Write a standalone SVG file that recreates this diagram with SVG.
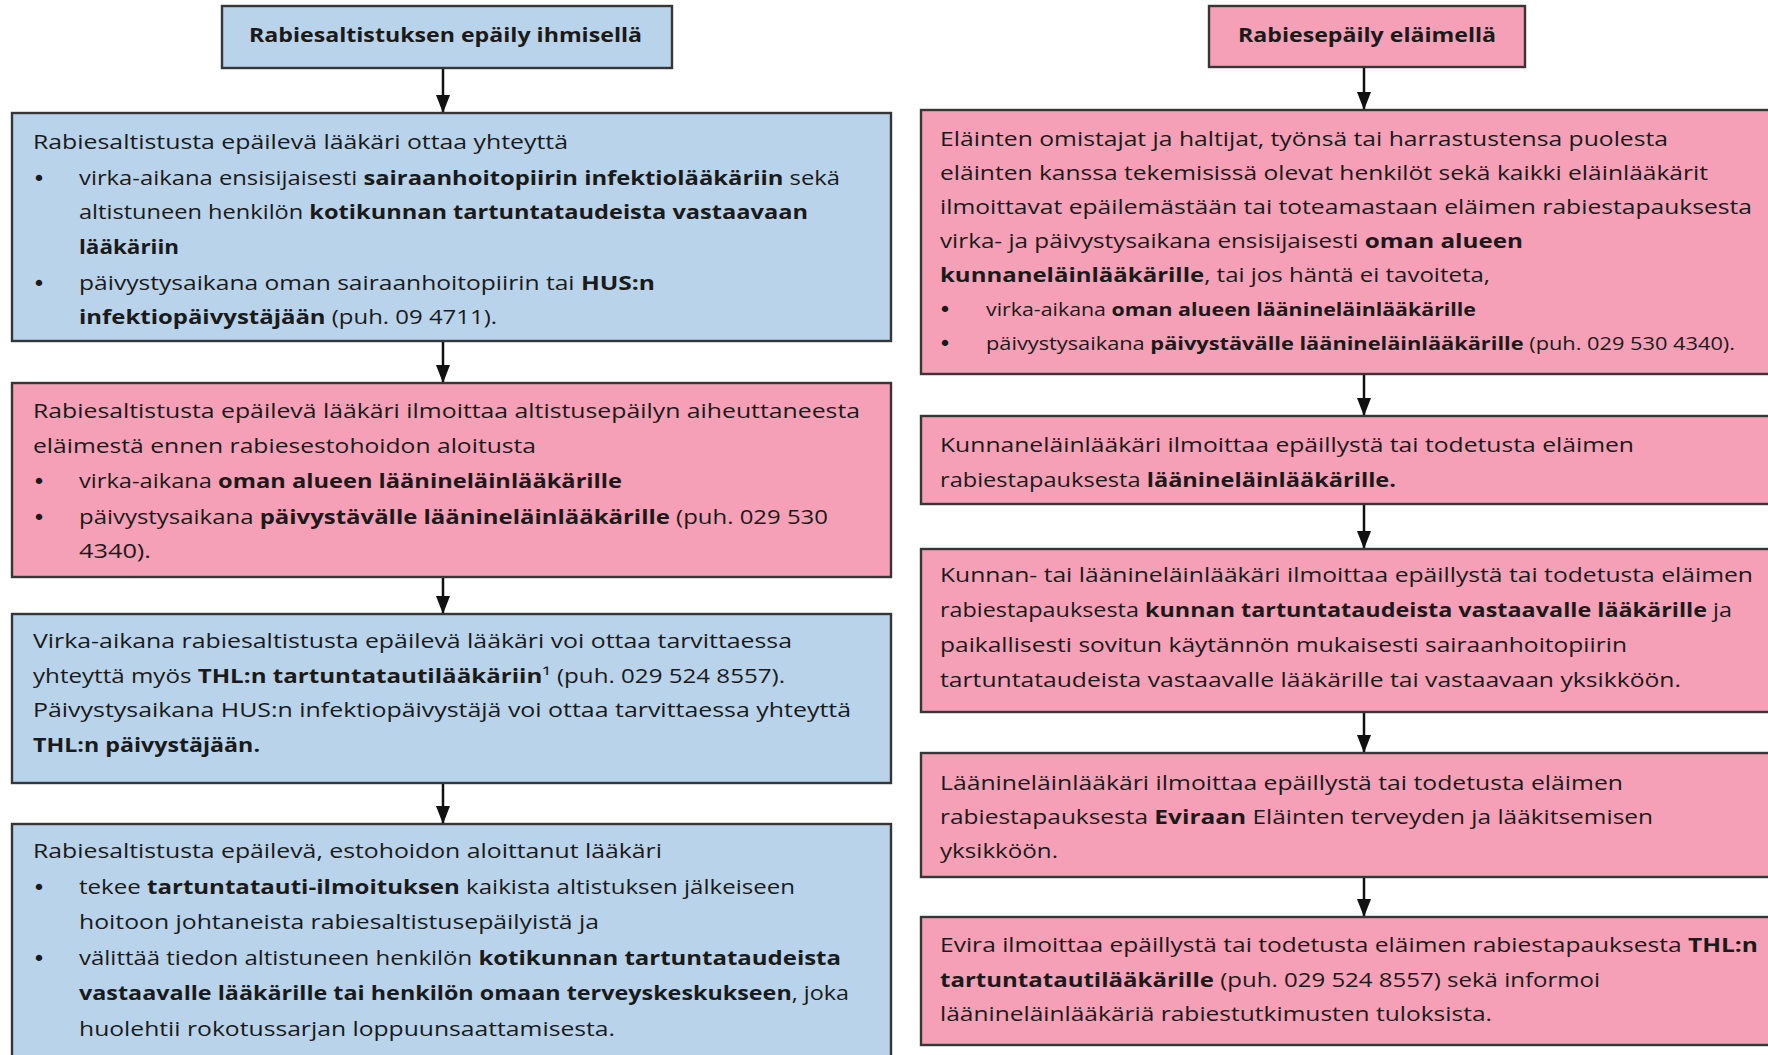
<svg xmlns="http://www.w3.org/2000/svg" width="1768" height="1055" viewBox="0 0 1768 1055">
<style>
.bg{fill:#ffffff}
.blue{fill:#B9D3EB;stroke:#363636;stroke-width:2.4}
.pink{fill:#F5A0B6;stroke:#363636;stroke-width:2.4}
.t{font-family:"Open Sans","Noto Sans","Liberation Sans",sans-serif;font-size:20px;fill:#1a1a1a}
.s{font-size:18px}
.b{font-weight:bold}
.bul{font-family:"DejaVu Sans","Liberation Sans",sans-serif;font-size:22px;fill:#1a1a1a;text-anchor:middle}
.arr{stroke:#111;stroke-width:2.5;fill:none}
</style>
<defs>
<marker id="ah" markerUnits="userSpaceOnUse" markerWidth="18" markerHeight="14" refX="18" refY="7" orient="auto">
<path d="M0,0 L18,7 L0,14 z" fill="#111"/>
</marker>
</defs>
<rect class="bg" x="0" y="0" width="1768" height="1055"/>

<g id="connectors">
<line class="arr" x1="443" y1="68" x2="443" y2="113" marker-end="url(#ah)"/>
<line class="arr" x1="443" y1="341" x2="443" y2="383" marker-end="url(#ah)"/>
<line class="arr" x1="443" y1="577" x2="443" y2="614" marker-end="url(#ah)"/>
<line class="arr" x1="443" y1="783" x2="443" y2="824" marker-end="url(#ah)"/>
<line class="arr" x1="1364" y1="67" x2="1364" y2="110" marker-end="url(#ah)"/>
<line class="arr" x1="1364" y1="374" x2="1364" y2="416" marker-end="url(#ah)"/>
<line class="arr" x1="1364" y1="504" x2="1364" y2="549" marker-end="url(#ah)"/>
<line class="arr" x1="1364" y1="712" x2="1364" y2="753" marker-end="url(#ah)"/>
<line class="arr" x1="1364" y1="877" x2="1364" y2="917" marker-end="url(#ah)"/>
</g>

<g id="title-human">
<rect class="blue" x="222" y="6" width="450" height="62"/>
<text class="t b" x="249" y="42" textLength="393" lengthAdjust="spacingAndGlyphs">Rabiesaltistuksen epäily ihmisellä</text>
</g>

<g id="title-animal">
<rect class="pink" x="1209" y="6" width="316" height="61"/>
<text class="t b" x="1238" y="42" textLength="258" lengthAdjust="spacingAndGlyphs">Rabiesepäily eläimellä</text>
</g>

<g id="human-1">
<rect class="blue" x="12" y="113" width="879" height="228"/>
<text class="t" x="33" y="149" textLength="535" lengthAdjust="spacingAndGlyphs">Rabiesaltistusta epäilevä lääkäri ottaa yhteyttä</text>
<text class="bul" x="39" y="186">•</text>
<text class="t" x="79" y="185" textLength="761" lengthAdjust="spacingAndGlyphs">virka-aikana ensisijaisesti <tspan class="b">sairaanhoitopiirin infektiolääkäriin</tspan> sekä</text>
<text class="t" x="79" y="219" textLength="729" lengthAdjust="spacingAndGlyphs">altistuneen henkilön <tspan class="b">kotikunnan tartuntataudeista vastaavaan</tspan></text>
<text class="t b" x="79" y="254" textLength="100" lengthAdjust="spacingAndGlyphs">lääkäriin</text>
<text class="bul" x="39" y="291">•</text>
<text class="t" x="79" y="290" textLength="576" lengthAdjust="spacingAndGlyphs">päivystysaikana oman sairaanhoitopiirin tai <tspan class="b">HUS:n</tspan></text>
<text class="t" x="79" y="324" textLength="418" lengthAdjust="spacingAndGlyphs"><tspan class="b">infektiopäivystäjään</tspan> (puh. 09 4711).</text>
</g>

<g id="human-2">
<rect class="pink" x="12" y="383" width="879" height="194"/>
<text class="t" x="33" y="418" textLength="827" lengthAdjust="spacingAndGlyphs">Rabiesaltistusta epäilevä lääkäri ilmoittaa altistusepäilyn aiheuttaneesta</text>
<text class="t" x="33" y="453" textLength="503" lengthAdjust="spacingAndGlyphs">eläimestä ennen rabiesestohoidon aloitusta</text>
<text class="bul" x="39" y="489">•</text>
<text class="t" x="79" y="488" textLength="543" lengthAdjust="spacingAndGlyphs">virka-aikana <tspan class="b">oman alueen läänineläinlääkärille</tspan></text>
<text class="bul" x="39" y="525">•</text>
<text class="t" x="79" y="524" textLength="749" lengthAdjust="spacingAndGlyphs">päivystysaikana <tspan class="b">päivystävälle läänineläinlääkärille</tspan> (puh. 029 530</text>
<text class="t" x="79" y="558" textLength="72" lengthAdjust="spacingAndGlyphs">4340).</text>
</g>

<g id="human-3">
<rect class="blue" x="12" y="614" width="879" height="169"/>
<text class="t" x="33" y="648" textLength="759" lengthAdjust="spacingAndGlyphs">Virka-aikana rabiesaltistusta epäilevä lääkäri voi ottaa tarvittaessa</text>
<text class="t" x="33" y="683" textLength="752" lengthAdjust="spacingAndGlyphs">yhteyttä myös <tspan class="b">THL:n tartuntatautilääkäriin</tspan>¹ (puh. 029 524 8557).</text>
<text class="t" x="33" y="717" textLength="818" lengthAdjust="spacingAndGlyphs">Päivystysaikana HUS:n infektiopäivystäjä voi ottaa tarvittaessa yhteyttä</text>
<text class="t b" x="33" y="752" textLength="227" lengthAdjust="spacingAndGlyphs">THL:n päivystäjään.</text>
</g>

<g id="human-4">
<rect class="blue" x="12" y="824" width="879" height="260"/>
<text class="t" x="33" y="858" textLength="629" lengthAdjust="spacingAndGlyphs">Rabiesaltistusta epäilevä, estohoidon aloittanut lääkäri</text>
<text class="bul" x="39" y="895">•</text>
<text class="t" x="79" y="894" textLength="716" lengthAdjust="spacingAndGlyphs">tekee <tspan class="b">tartuntatauti-ilmoituksen</tspan> kaikista altistuksen jälkeiseen</text>
<text class="t" x="79" y="929" textLength="520" lengthAdjust="spacingAndGlyphs">hoitoon johtaneista rabiesaltistusepäilyistä ja</text>
<text class="bul" x="39" y="966">•</text>
<text class="t" x="79" y="965" textLength="762" lengthAdjust="spacingAndGlyphs">välittää tiedon altistuneen henkilön <tspan class="b">kotikunnan tartuntataudeista</tspan></text>
<text class="t" x="79" y="1000" textLength="770" lengthAdjust="spacingAndGlyphs"><tspan class="b">vastaavalle lääkärille tai henkilön omaan terveyskeskukseen</tspan>, joka</text>
<text class="t" x="79" y="1036" textLength="536" lengthAdjust="spacingAndGlyphs">huolehtii rokotussarjan loppuunsaattamisesta.</text>
</g>

<g id="animal-1">
<rect class="pink" x="921" y="110" width="870" height="264"/>
<text class="t" x="940" y="146" textLength="728" lengthAdjust="spacingAndGlyphs">Eläinten omistajat ja haltijat, työnsä tai harrastustensa puolesta</text>
<text class="t" x="940" y="180" textLength="768" lengthAdjust="spacingAndGlyphs">eläinten kanssa tekemisissä olevat henkilöt sekä kaikki eläinlääkärit</text>
<text class="t" x="940" y="214" textLength="812" lengthAdjust="spacingAndGlyphs">ilmoittavat epäilemästään tai toteamastaan eläimen rabiestapauksesta</text>
<text class="t" x="940" y="248" textLength="583" lengthAdjust="spacingAndGlyphs">virka- ja päivystysaikana ensisijaisesti <tspan class="b">oman alueen</tspan></text>
<text class="t" x="940" y="282" textLength="550" lengthAdjust="spacingAndGlyphs"><tspan class="b">kunnaneläinlääkärille</tspan>, tai jos häntä ei tavoiteta,</text>
<text class="bul" x="945" y="317">•</text>
<text class="t s" x="986" y="316" textLength="490" lengthAdjust="spacingAndGlyphs">virka-aikana <tspan class="b">oman alueen läänineläinlääkärille</tspan></text>
<text class="bul" x="945" y="351">•</text>
<text class="t s" x="986" y="350" textLength="749" lengthAdjust="spacingAndGlyphs">päivystysaikana <tspan class="b">päivystävälle läänineläinlääkärille</tspan> (puh. 029 530 4340).</text>
</g>

<g id="animal-2">
<rect class="pink" x="921" y="416" width="870" height="88"/>
<text class="t" x="940" y="452" textLength="694" lengthAdjust="spacingAndGlyphs">Kunnaneläinlääkäri ilmoittaa epäillystä tai todetusta eläimen</text>
<text class="t" x="940" y="487" textLength="456" lengthAdjust="spacingAndGlyphs">rabiestapauksesta <tspan class="b">läänineläinlääkärille.</tspan></text>
</g>

<g id="animal-3">
<rect class="pink" x="921" y="549" width="870" height="163"/>
<text class="t" x="940" y="582" textLength="813" lengthAdjust="spacingAndGlyphs">Kunnan- tai läänineläinlääkäri ilmoittaa epäillystä tai todetusta eläimen</text>
<text class="t" x="940" y="617" textLength="792" lengthAdjust="spacingAndGlyphs">rabiestapauksesta <tspan class="b">kunnan tartuntataudeista vastaavalle lääkärille</tspan> ja</text>
<text class="t" x="940" y="652" textLength="687" lengthAdjust="spacingAndGlyphs">paikallisesti sovitun käytännön mukaisesti sairaanhoitopiirin</text>
<text class="t" x="940" y="687" textLength="741" lengthAdjust="spacingAndGlyphs">tartuntataudeista vastaavalle lääkärille tai vastaavaan yksikköön.</text>
</g>

<g id="animal-4">
<rect class="pink" x="921" y="753" width="870" height="124"/>
<text class="t" x="940" y="790" textLength="683" lengthAdjust="spacingAndGlyphs">Läänineläinlääkäri ilmoittaa epäillystä tai todetusta eläimen</text>
<text class="t" x="940" y="824" textLength="713" lengthAdjust="spacingAndGlyphs">rabiestapauksesta <tspan class="b">Eviraan</tspan> Eläinten terveyden ja lääkitsemisen</text>
<text class="t" x="940" y="858" textLength="118" lengthAdjust="spacingAndGlyphs">yksikköön.</text>
</g>

<g id="animal-5">
<rect class="pink" x="921" y="917" width="870" height="128"/>
<text class="t" x="940" y="952" textLength="818" lengthAdjust="spacingAndGlyphs">Evira ilmoittaa epäillystä tai todetusta eläimen rabiestapauksesta <tspan class="b">THL:n</tspan></text>
<text class="t" x="940" y="987" textLength="660" lengthAdjust="spacingAndGlyphs"><tspan class="b">tartuntatautilääkärille</tspan> (puh. 029 524 8557) sekä informoi</text>
<text class="t" x="940" y="1021" textLength="552" lengthAdjust="spacingAndGlyphs">läänineläinlääkäriä rabiestutkimusten tuloksista.</text>
</g>
</svg>
